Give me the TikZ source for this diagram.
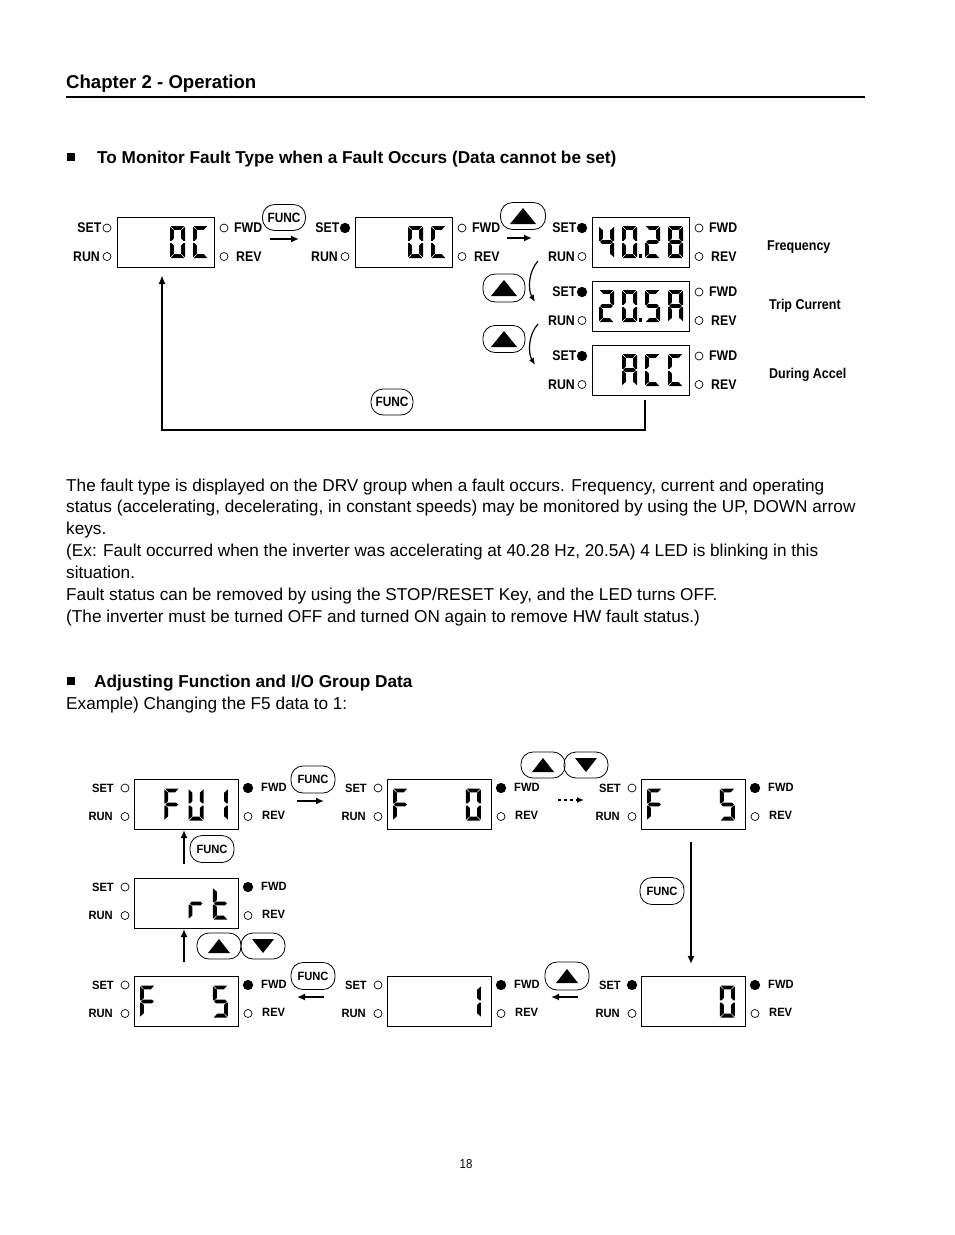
\documentclass[tikz,border=0pt]{standalone}
\usepackage{fontspec}
\setmainfont{Liberation Sans}
\newfontfamily\nrw[FakeStretch=0.88]{Liberation Sans}
\newfontfamily\nrwb[FakeStretch=0.93]{Liberation Sans}
\usetikzlibrary{arrows.meta}

\tikzset{
  dbox/.style={draw, line width=1pt, inner sep=0, anchor=north west},
  ledoff/.style={circle, draw, line width=0.7pt, minimum size=8pt, inner sep=0},
  ledon/.style={circle, draw, fill, line width=0.7pt, minimum size=9.5pt, inner sep=0},
  tl/.style={font=\nrw\bfseries\fontsize{14}{14}\selectfont, inner sep=0},
  bl/.style={font=\nrwb\bfseries\fontsize{12}{12}\selectfont, inner sep=0},
  sidelbl/.style={font=\nrw\bfseries\fontsize{14.2}{14}\selectfont, inner sep=0, anchor=base west},
  btn/.style={draw, line width=0.8pt, rounded corners=12pt, inner sep=0},
  tfunc/.style={btn, minimum width=43pt, minimum height=26pt, font=\nrw\bfseries\fontsize{13.5}{13.5}\selectfont},
  bfunc/.style={btn, minimum width=44pt, minimum height=27pt, font=\nrwb\bfseries\fontsize{12}{12}\selectfont},
  arr/.style={line width=2pt, -{Latex[length=8pt,width=7pt]}},
  body/.style={font=\fontsize{17.2}{20}\selectfont, inner sep=0, anchor=base west},
  head/.style={font=\bfseries\fontsize{17.2}{20}\selectfont, inner sep=0, anchor=base west},
}

% seven segment pieces (digit 15 x 32)
\newcommand\dsega{\fill (0.8,0) -- (14.2,0) -- (10.8,3.8) -- (4.2,3.8) -- cycle;}
\newcommand\dsegb{\fill (15,0.8) -- (11.2,4.2) -- (11.2,12.6) -- (13.4,14.8) -- (15,14.8) -- cycle;}
\newcommand\dsegc{\fill (15,31.2) -- (11.2,27.8) -- (11.2,19.4) -- (13.4,17.2) -- (15,17.2) -- cycle;}
\newcommand\dsegd{\fill (0.8,32) -- (14.2,32) -- (10.8,28.2) -- (4.2,28.2) -- cycle;}
\newcommand\dsege{\fill (0,31.2) -- (3.8,27.8) -- (3.8,19.4) -- (1.6,17.2) -- (0,17.2) -- cycle;}
\newcommand\dsegf{\fill (0,0.8) -- (3.8,4.2) -- (3.8,12.6) -- (1.6,14.8) -- (0,14.8) -- cycle;}
\newcommand\dsegg{\fill (1.2,16) -- (3,14.2) -- (12,14.2) -- (13.8,16) -- (12,17.8) -- (3,17.8) -- cycle;}
\newcommand\dsegp{\fill (16.6,28.4) rectangle (19.6,32);}
\newcommand\dg[3]{\begin{scope}[shift={({#1},{#2})}]\foreach \s in #3 {\csname dseg\s\endcsname}\end{scope}}

% top panel: name, L, T, set style, digits
\newcommand\tpanel[5]{%
  \node[dbox, minimum width=97pt, minimum height=50pt] (#1) at (#2,#3) {};
  \node[#4] (#1s) at ({#2-10},{#3+11}) {};
  \node[ledoff] (#1r) at ({#2-10},{#3+39.5}) {};
  \node[ledoff] (#1f) at ({#2+107},{#3+11}) {};
  \node[ledoff] (#1v) at ({#2+107},{#3+39.5}) {};
  \node[tl, anchor=east] at ({#2-15.5},{#3+11}) {SET};
  \node[tl, anchor=east] at ({#2-17},{#3+39.5}) {RUN};
  \node[tl, anchor=west] at ({#2+117},{#3+11}) {FWD};
  \node[tl, anchor=west] at ({#2+119},{#3+39.5}) {REV};
  \foreach \p/\sg in {#5} {\dg{#2+7+(\p-1)*23}{#3+9}{\sg}}
}
% bottom panel: name, L, T, set style, fwd style, digits
\newcommand\bpanel[6]{%
  \node[dbox, minimum width=104pt, minimum height=50pt] (#1) at (#2,#3) {};
  \node[#4] (#1s) at ({#2-9},{#3+9}) {};
  \node[ledoff] (#1r) at ({#2-9},{#3+37.5}) {};
  \node[#5] (#1f) at ({#2+114},{#3+9}) {};
  \node[ledoff] (#1v) at ({#2+114},{#3+37.5}) {};
  \node[bl, anchor=east] at ({#2-20},{#3+9}) {SET};
  \node[bl, anchor=east] at ({#2-21},{#3+37.5}) {RUN};
  \node[bl, anchor=west] at ({#2+127},{#3+8.5}) {FWD};
  \node[bl, anchor=west] at ({#2+128},{#3+36.5}) {REV};
  \foreach \p/\sg in {#6} {\dg{#2+6+(\p-1)*24.33}{#3+9.5}{\sg}}
}
\newcommand\uptri[3]{\fill ([shift={({-#2/2},{#3/2})}]#1.center) -- ([shift={({#2/2},{#3/2})}]#1.center) -- ([shift={(0,{-#3/2})}]#1.center) -- cycle;}
\newcommand\dntri[3]{\fill ([shift={({-#2/2},{-#3/2})}]#1.center) -- ([shift={({#2/2},{-#3/2})}]#1.center) -- ([shift={(0,{#3/2})}]#1.center) -- cycle;}

\begin{document}
\begin{tikzpicture}[x=1pt,y=-1pt]
\useasboundingbox (0,0) rectangle (954,1235);
\fill[white] (0,0) rectangle (954,1235);

% header
\node[font=\bfseries\fontsize{18.6}{20}\selectfont, inner sep=0, anchor=base west] (chap) at (66,88) {Chapter 2 - Operation};
\draw[line width=2pt] (66,97) -- (865,97);

% section 1 title
\fill (67,153) rectangle (75,161);
\node[head] (sec1) at (97,163) {To Monitor Fault Type when a Fault Occurs (Data cannot be set)};

% top panels
\tpanel{t1}{117}{217}{ledoff}{3/{a,b,c,d,e,f},4/{a,d,e,f}}
\tpanel{t2}{355}{217}{ledon}{3/{a,b,c,d,e,f},4/{a,d,e,f}}
\tpanel{t3}{592}{217}{ledon}{1/{b,c,f,g},2/{a,b,c,d,e,f,p},3/{a,b,d,e,g},4/{a,b,c,d,e,f,g}}
\tpanel{t4}{592}{281}{ledon}{1/{a,b,d,e,g},2/{a,b,c,d,e,f,p},3/{a,c,d,f,g},4/{a,b,c,e,f,g}}
\tpanel{t5}{592}{345}{ledon}{2/{a,b,c,e,f,g},3/{a,d,e,f},4/{a,d,e,f}}

\node[sidelbl] (lf) at (767,250) {Frequency};
\node[sidelbl] (lt) at (769,309) {Trip Current};
\node[sidelbl] (la) at (769,378) {During Accel};

% top buttons
\node[tfunc] (fn1) at (284,217.5) {FUNC};
\coordinate (fa1) at (270,239); \coordinate (fa2) at (299,239);
\draw[arr] (fa1) -- (fa2);
\node[btn, minimum width=45pt, minimum height=27pt] (up1) at (523,216) {};
\uptri{up1}{26}{16}
\coordinate (ua1) at (507,238); \coordinate (ua2) at (532,238);
\draw[arr] (ua1) -- (ua2);
\node[btn, minimum width=42pt, minimum height=28pt] (up2) at (504,288) {};
\uptri{up2}{26}{16}
\node[btn, minimum width=42pt, minimum height=27pt] (up3) at (504,339) {};
\uptri{up3}{26}{16}
\coordinate (c1a) at (538,261); \coordinate (c1b) at (535,302);
\draw[line width=1.2pt, -{Latex[length=7pt,width=5.5pt]}] (c1a) .. controls (528,272) and (528,290) .. (c1b);
\coordinate (c2a) at (538,324); \coordinate (c2b) at (535,365);
\draw[line width=1.2pt, -{Latex[length=7pt,width=5.5pt]}] (c2a) .. controls (528,335) and (528,353) .. (c2b);

\node[tfunc, minimum width=42pt] (fn2) at (392,402) {FUNC};
\coordinate (lp1) at (645,400); \coordinate (lp2) at (645,430);
\coordinate (lp3) at (162,430); \coordinate (lp4) at (162,275);
\draw[line width=2pt, -{Latex[length=9pt,width=7pt]}] (lp1) -- (lp2) -- (lp3) -- (lp4);

% paragraph
\node[body] (p1) at (66,491) {The fault type is displayed on the DRV group when a fault occurs. Frequency, current and operating};
\node[body] (p2) at (66,512.5) {status (accelerating, decelerating, in constant speeds) may be monitored by using the UP, DOWN arrow};
\node[body] (p3) at (66,534) {keys.};
\node[body] (p4) at (66,556) {(Ex: Fault occurred when the inverter was accelerating at 40.28 Hz, 20.5A) 4 LED is blinking in this};
\node[body] (p5) at (66,578) {situation.};
\node[body] (p6) at (66,600) {Fault status can be removed by using the STOP/RESET Key, and the LED turns OFF.};
\node[body] (p7) at (66,622) {(The inverter must be turned OFF and turned ON again to remove HW fault status.)};

% section 2
\fill (67,677) rectangle (75,685);
\node[head] (sec2) at (94,687) {Adjusting Function and I/O Group Data};
\node[body] (ex) at (66,709) {Example) Changing the F5 data to 1:};

% bottom panels
\bpanel{bA}{134}{779}{ledoff}{ledon}{2/{a,e,f,g},3/{b,c,d,e,f},4/{b,c}}
\bpanel{bB}{387}{779}{ledoff}{ledon}{1/{a,e,f,g},4/{a,b,c,d,e,f}}
\bpanel{bC}{641}{779}{ledoff}{ledon}{1/{a,e,f,g},4/{a,c,d,f,g}}
\bpanel{bD}{134}{878}{ledoff}{ledon}{3/{e,g},4/{d,e,f,g}}
\bpanel{bE}{134}{976}{ledoff}{ledon}{1/{a,e,f,g},4/{a,c,d,f,g}}
\bpanel{bF}{387}{976}{ledoff}{ledon}{4/{b,c}}
\bpanel{bG}{641}{976}{ledon}{ledon}{4/{a,b,c,d,e,f}}

% bottom buttons and arrows
\node[bfunc] (fb1) at (313,779.5) {FUNC};
\coordinate (b1a) at (297,801); \coordinate (b1b) at (324,801);
\draw[arr] (b1a) -- (b1b);
\node[btn, minimum width=44pt, minimum height=26pt] (ub1) at (543,765) {};
\uptri{ub1}{22}{14}
\node[btn, minimum width=44pt, minimum height=26pt] (db1) at (586,765) {};
\dntri{db1}{22}{14}
\coordinate (b2a) at (558,800); \coordinate (b2b) at (584,800);
\draw[line width=1.6pt, dash pattern=on 3pt off 3pt, -{Latex[length=7pt,width=6pt]}] (b2a) -- (b2b);

\node[bfunc] (fb2) at (212,849) {FUNC};
\coordinate (b3a) at (184,864);
\draw[arr] (b3a) -- (bA.south -| b3a);
\node[btn, minimum width=44pt, minimum height=26pt] (ub2) at (219,946) {};
\uptri{ub2}{22}{14}
\node[btn, minimum width=44pt, minimum height=26pt] (db2) at (263,946) {};
\dntri{db2}{22}{14}
\coordinate (b4a) at (184,962);
\draw[arr] (b4a) -- (bD.south -| b4a);

\node[bfunc] (fb3) at (662,891) {FUNC};
\coordinate (b5a) at (691,842); \coordinate (b5b) at (691,964);
\draw[arr] (b5a) -- (b5b);

\node[bfunc] (fb4) at (313,976) {FUNC};
\coordinate (b6a) at (324,997); \coordinate (b6b) at (297,997);
\draw[arr] (b6a) -- (b6b);
\node[btn, minimum width=44pt, minimum height=28pt] (ub3) at (567,976) {};
\uptri{ub3}{22}{14}
\coordinate (b7a) at (578,997); \coordinate (b7b) at (551,997);
\draw[arr] (b7a) -- (b7b);

% page number
\node[font=\nrw\fontsize{13}{13}\selectfont, inner sep=0, anchor=base] (pg) at (466,1168) {18};
\end{tikzpicture}
\end{document}
